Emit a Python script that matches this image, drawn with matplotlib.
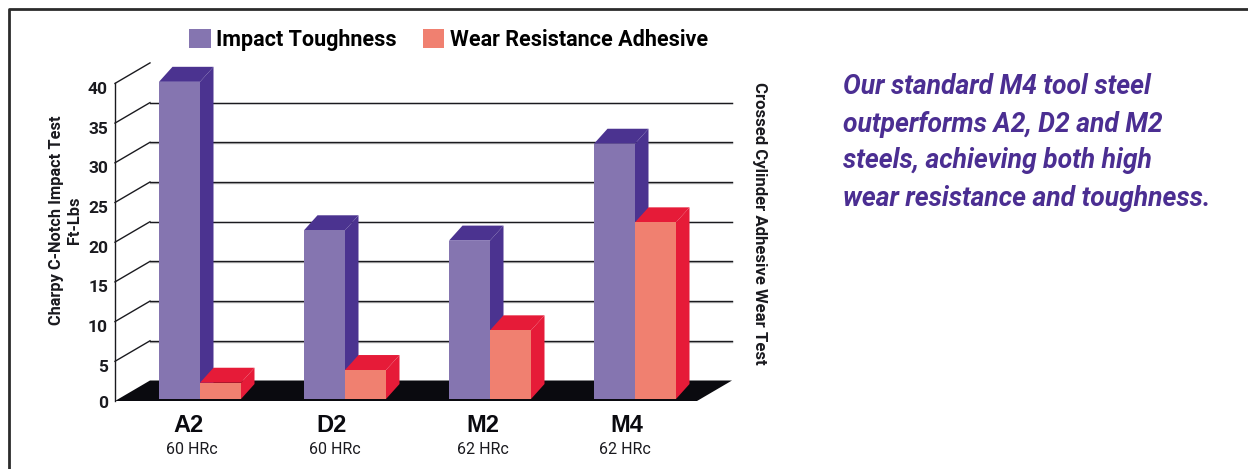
import matplotlib
matplotlib.use("Agg")
import matplotlib.pyplot as plt
from matplotlib.patches import Patch, Polygon

categories = ["A2", "D2", "M2", "M4"]
hardness = ["60 HRc", "60 HRc", "62 HRc", "62 HRc"]
impact = [40.2, 21.5, 20.2, 32.4]
wear = [2.3, 3.9, 8.9, 22.5]
yticks = [0, 5, 10, 15, 20, 25, 30, 35, 40]
series_names = ["Impact Toughness", "Wear Resistance Adhesive"]
callout = ["Our standard M4 tool steel", "outperforms A2, D2 and M2",
           "steels, achieving both high", "wear resistance and toughness."]

W, H = 1248, 469
PX_X = 145.0  # px per category
PX_Y = 7.94   # px per y unit
FONT = ["Roboto", "Liberation Sans", "DejaVu Sans"]

PURPLE, PURPLE_D = "#8575B0", "#4B3390"
SALMON, RED = "#F08070", "#E61B38"
INK = "#1a1a1f"

fig = plt.figure(figsize=(W / 100, H / 100), dpi=100, facecolor="white")

# axes sit on the front plane of the fake 3d box
left, right, base, top = 115, 732, 401, 64
ax = fig.add_axes([left / W, 1 - base / H, (right - left) / W, (base - top) / H])
ax.set_xlim((left - 200) / PX_X, (right - 200) / PX_X)
ax.set_ylim(0, (base - top) / PX_Y)
ax.patch.set_alpha(0)

# box depth in data units
wall_x, wall_y = 35 / PX_X, 20.5 / PX_Y
bar_dx, bar_dy = 13.5 / PX_X, 15 / PX_Y
bar_w = 41 / PX_X
floor_y = 0.25
x0 = ax.get_xlim()[0]
x1 = ax.get_xlim()[1]

# back wall lines + side lines
for t in yticks:
    if t == 0:
        continue
    ax.plot([x0, x0 + wall_x], [t, t + wall_y], color=INK, lw=1.0, clip_on=False, zorder=1)
    if t < 40:
        ax.plot([x0 + wall_x, x1], [t + wall_y - 0.1] * 2, color="#b5b5b5", lw=1.0, clip_on=False, zorder=1)
        ax.plot([x0 + wall_x, x1], [t + wall_y] * 2, color=INK, lw=1.0, clip_on=False, zorder=1)

# floor
ax.add_patch(Polygon([(x0, 0), (x0 + wall_x, wall_y), (x1, wall_y), (x1 - wall_x, 0)],
                     closed=True, fc="#0a0a0f", ec="none", zorder=2))


def box(xleft, value, front, dark, z):
    ax.add_patch(Polygon([(xleft + bar_w, floor_y), (xleft + bar_w + bar_dx, floor_y + bar_dy),
                          (xleft + bar_w + bar_dx, value + bar_dy), (xleft + bar_w, value)],
                         closed=True, fc=dark, ec="none", zorder=z))
    ax.add_patch(Polygon([(xleft, value), (xleft + bar_dx, value + bar_dy),
                          (xleft + bar_w + bar_dx, value + bar_dy), (xleft + bar_w, value)],
                         closed=True, fc=dark, ec="none", zorder=z))
    ax.bar(xleft, value - floor_y, bar_w, bottom=floor_y, align="edge", color=front, zorder=z + 0.5)


for i, cat in enumerate(categories):
    box(i - bar_w, impact[i], PURPLE, PURPLE_D, 3)
    box(i, wear[i], SALMON, RED, 4)

# axis
for s in ["top", "right", "bottom"]:
    ax.spines[s].set_visible(False)
ax.spines["left"].set_bounds(0, 40)
ax.spines["left"].set_color(INK)
ax.spines["left"].set_linewidth(1.0)
ax.set_yticks(yticks)
ax.set_yticklabels([])
ax.tick_params(axis="y", length=0)
ax.set_xticks([])
# tick numbers sit a little under their lines, the 0 less so
for t in yticks:
    ax.annotate(str(t), (x0, t), xytext=(-7, -6 if t else -2), textcoords="offset pixels", ha="right", va="center",
                family=FONT, fontweight="bold", fontsize=12.5, color=INK, annotation_clip=False)

# category labels sit a bit left of the bar joint in the original
cat_px = [189, 332, 483, 627]
hrc_px = [192, 335, 483, 625]
for i in range(len(categories)):
    ax.text((cat_px[i] - 200) / PX_X, -24 / PX_Y, categories[i], ha="center", va="center", family="Liberation Sans",
            fontweight="bold", fontsize=17, color="#0a0a0f")
    ax.text((hrc_px[i] - 200) / PX_X, -48 / PX_Y, hardness[i], ha="center", va="center", family=FONT,
            fontsize=11.5, color=INK)

ax.text((57 - left) / PX_X + x0, (base - 220) / PX_Y, "Charpy C-Notch Impact Test", rotation=90, ha="center", va="center",
        family=FONT, fontweight="bold", fontsize=11.8, color=INK, clip_on=False)
ax.text((75 - left) / PX_X + x0, (base - 220) / PX_Y, "Ft-Lbs", rotation=90, ha="center", va="center",
        family=FONT, fontweight="bold", fontsize=11.8, color=INK, clip_on=False)
ax.text((759 - left) / PX_X + x0, (base - 223) / PX_Y, "Crossed Cylinder Adhesive Wear Test", rotation=270, ha="center", va="center",
        family=FONT, fontweight="bold", fontsize=12.1, color=INK, clip_on=False)

handles = [Patch(fc=PURPLE, ec="none"), Patch(fc=SALMON, ec="none")]
fig.legend(handles, series_names, ncol=2, frameon=False, loc="center left",
           bbox_to_anchor=(170 / W, 1 - 40 / H), handlelength=1.0, handleheight=1.0,
           handletextpad=0.25, columnspacing=1.2,
           prop={"family": FONT, "weight": "bold", "size": 15.5})

# callout
for line, y in zip(callout, [86, 124, 161, 198]):
    fig.text(843 / W, 1 - y / H, line, ha="left", va="center", color="#4B2E92",
             family=FONT, fontweight="bold", fontstyle="italic", fontsize=19.1)

# border, only top and left reach inside the crop
fig.add_artist(plt.Line2D([8.5 / W, 8.5 / W, 1], [0, 1 - 9.5 / H, 1 - 9.5 / H],
                          color="#2b2b2b", lw=2.0, transform=fig.transFigure))

fig.savefig("out.png", dpi=100)
